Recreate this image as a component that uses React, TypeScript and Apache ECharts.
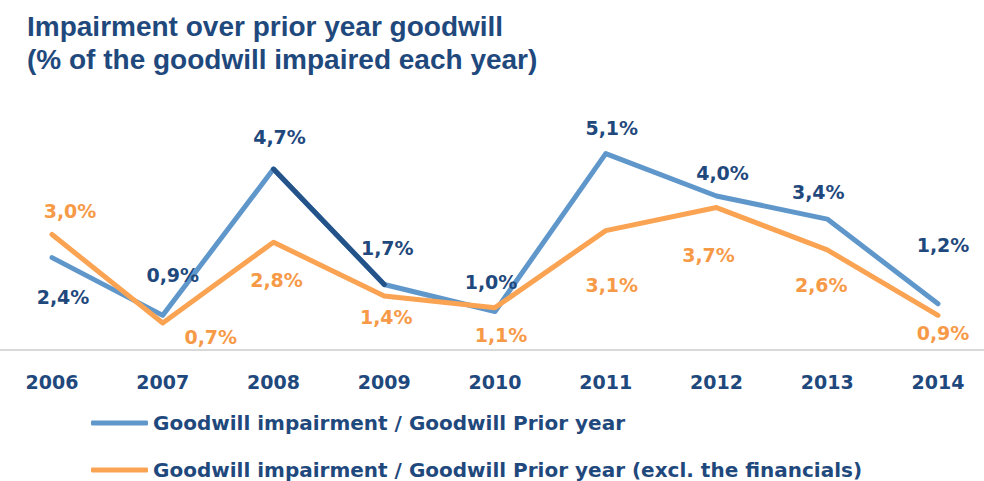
import React, { useEffect, useRef } from "react";
import * as echarts from "echarts";

const years = ["2006", "2007", "2008", "2009", "2010", "2011", "2012", "2013", "2014"];
const totalValues = [2.4, 0.9, 4.7, 1.7, 1.0, 5.1, 4.0, 3.4, 1.2];
const exFinancialsValues = [3.0, 0.7, 2.8, 1.4, 1.1, 3.1, 3.7, 2.6, 0.9];
const seriesNames = [
  "Goodwill impairment / Goodwill Prior year",
  "Goodwill impairment / Goodwill Prior year (excl. the financials)",
];
const highlightedSegment = [2, 3];
const titleLines = ["Impairment over prior year goodwill", "(% of the goodwill impaired each year)"];

// label placement tweaks (pixels, relative to the point)
const totalLabelOffsets = [
  [11, 39], [10, -40], [6, -32], [3, -37], [-4, -30], [6, -26], [6, -23], [-9, -27], [5, -59],
];
const exLabelOffsets = [
  [18, -24], [48, 14], [3, 38], [2, 21], [6, 27], [6, 54], [-8, 47], [-6, 35], [5, 18],
];

const NAVY = "#1F497D";
const BLUE = "#5F97CB";
const DARK = "#24538A";
const ORANGE = "#F9A353";
const ORANGE_TEXT = "#F79A48";

const fmt = (v: number) => v.toFixed(1).replace(".", ",") + "%";

export default function App() {
  const ref = useRef<HTMLDivElement>(null);
  useEffect(() => {
    if (!ref.current) return;
    const chart = echarts.init(ref.current, undefined, { renderer: "svg" });
    const labelBase = {
      show: true,
      position: "inside",
      fontFamily: "DejaVu Sans",
      fontWeight: "bold",
      fontSize: 19,
      formatter: (p: any) => fmt(p.value),
    };
    const legendBase = {
      orient: "horizontal",
      left: 86,
      itemWidth: 57,
      itemHeight: 5,
      icon: "roundRect",
      textStyle: {
        fontFamily: "DejaVu Sans",
        fontWeight: "bold",
        fontSize: 20,
        color: NAVY,
      },
    };
    chart.setOption({
      animation: false,
      backgroundColor: "#ffffff",
      title: {
        text: titleLines.join("\n"),
        left: 22,
        top: 5,
        textStyle: {
          fontFamily: "Liberation Sans",
          fontWeight: "bold",
          fontSize: 28,
          lineHeight: 33,
          color: NAVY,
        },
      },
      legend: [
        { ...legendBase, data: [seriesNames[0]], top: 408 },
        { ...legendBase, data: [seriesNames[1]], top: 455 },
      ],
      grid: { left: 52, right: 46, top: 119, bottom: 131 },
      xAxis: {
        type: "category",
        data: years,
        boundaryGap: false,
        axisLine: { show: false },
        axisTick: { show: false },
        axisLabel: {
          margin: 22,
          fontFamily: "DejaVu Sans",
          fontWeight: "bold",
          fontSize: 19,
          color: NAVY,
        },
      },
      yAxis: {
        type: "value",
        min: 0,
        max: 6,
        interval: 1,
        show: false,
        splitLine: { show: false },
      },
      graphic: [
        {
          type: "rect",
          left: 0,
          top: 349,
          shape: { width: 984, height: 2 },
          style: { fill: "#D9D9D9" },
          z: -1,
        },
      ],
      series: [
        {
          name: seriesNames[0],
          type: "line",
          data: totalValues.map((v, i) => ({
            value: v,
            label: { offset: totalLabelOffsets[i] },
          })),
          color: BLUE,
          symbol: "circle",
          symbolSize: 2,
          lineStyle: { width: 5, color: BLUE, cap: "round", join: "round" },
          itemStyle: { color: BLUE },
          label: { ...labelBase, color: NAVY },
          z: 2,
        },
        {
          name: "segment",
          type: "line",
          data: totalValues.map((v, i) => (highlightedSegment.includes(i) ? v : null)),
          symbol: "none",
          lineStyle: { width: 5, color: DARK, cap: "round", join: "round" },
          itemStyle: { color: DARK },
          label: { show: false },
          z: 3,
        },
        {
          name: seriesNames[1],
          type: "line",
          data: exFinancialsValues.map((v, i) => ({
            value: v,
            label: { offset: exLabelOffsets[i] },
          })),
          color: ORANGE,
          symbol: "circle",
          symbolSize: 2,
          lineStyle: { width: 5, color: ORANGE, cap: "round", join: "round" },
          itemStyle: { color: ORANGE },
          label: { ...labelBase, color: ORANGE_TEXT },
          z: 4,
        },
      ],
    });
    return () => chart.dispose();
  }, []);
  return (
    <div
      ref={ref}
      style={{ position: "fixed", left: 0, top: 0, width: 984, height: 481 }}
    />
  );
}
